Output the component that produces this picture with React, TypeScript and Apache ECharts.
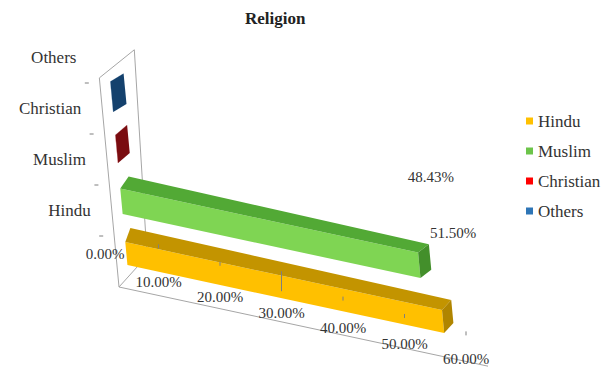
import React, { useEffect, useRef } from 'react';
import * as echarts from 'echarts';

// Religion shares (percent)
const categories = ['Hindu', 'Muslim', 'Christian', 'Others'];
const shares = [51.5, 48.43, 0.04, 0.03];

// Value axis ticks and their labels
const valueTicks = [0, 10, 20, 30, 40, 50, 60];
const tickLabels = ['0.00%', '10.00%', '20.00%', '30.00%', '40.00%', '50.00%', '60.00%'];

// Series colours: legend swatch, lit front face, top face, end face
const legendColors = ['#FFC000', '#6CC44A', '#FF0000', '#2E75B6'];
const frontColors = ['#FFC000', '#7FD553', '#B3161B', '#1F609E'];
const topColors = ['#C39400', '#52A935', '#8F1014', '#184E82'];
const endColors = ['#B08500', '#438F2B', '#7A0C10', '#14416D'];

const FONT = "'Liberation Serif', 'Times New Roman', serif";
const TEXT = '#333333';
const FRAME = '#A6A6A6';

// Oblique view: the value axis runs downhill to the right, the category axis leans left
const SLOPE = 0.2146; // vertical drop per horizontal pixel along the value axis
const LEAN = 0.094; // leftward shift per pixel of height
const WALL_TOP = 4.1; // wall height in category units
const BAR_BASE = 0.43; // bar bottom inside its band
const BAR_SHIFT = 10.5; // bars sit a little behind the front plane

type Pt = [number, number];

function projector(api: any) {
  const o = api.coord([0, 0]);
  const band = api.size([0, 1])[1];
  const x0 = o[0];
  const y0 = o[1] + band / 2;
  return (v: number, c: number, d: Pt = [0, 0]): Pt => {
    const rawX = api.coord([v, 0])[0];
    const rawY = y0 - c * band;
    return [rawX - LEAN * (y0 - rawY) + d[0], rawY + SLOPE * (rawX - x0) + d[1]];
  };
}

const add = (p: Pt, d: Pt): Pt => [p[0] + d[0], p[1] + d[1]];
// depth direction changes with position along the axes (cheap perspective)
const barDepth = (v: number, c: number): Pt => [
  3 + 0.1 * v + 3.2 * Math.min(c, 3.2) - 0.03 * v * c,
  -15.5 + 0.08 * v + 2 * c,
];
const wallDepth = (c: number): Pt => [28 + 1.7 * c, -31 + 0.7 * c];

function barSeries(i: number) {
  return {
    type: 'custom',
    name: categories[i],
    coordinateSystem: 'cartesian2d',
    itemStyle: { color: legendColors[i] },
    z: 3,
    silent: true,
    data: [[shares[i], i]],
    renderItem: (params: any, api: any) => {
      const v = api.value(0);
      const idx = api.value(1);
      const P = projector(api);
      const cb = idx + BAR_BASE;
      const ct = cb + 0.45 + 0.05 * idx;
      const cm = (cb + ct) / 2;
      const f: Pt = [BAR_SHIFT, 0];
      const fbl = P(0, cb, f);
      const fbr = P(v, cb, f);
      const ftr = P(v, ct, f);
      const ftl = P(0, ct, f);
      const dl = barDepth(0, cm);
      const dr = barDepth(v, cm);
      const btl = add(ftl, dl);
      const btr = add(ftr, dr);
      const bbr = add(fbr, dr);
      const children: any[] = [
        { type: 'polygon', shape: { points: [fbl, fbr, ftr, ftl] }, style: { fill: frontColors[i] } },
        { type: 'polygon', shape: { points: [ftl, ftr, btr, btl] }, style: { fill: topColors[i] } },
        { type: 'polygon', shape: { points: [fbr, ftr, btr, bbr] }, style: { fill: endColors[i] } },
      ];
      if (v >= 1) {
        children.push({
          type: 'text',
          x: btr[0] + 2,
          y: btr[1] - 67,
          style: {
            text: v.toFixed(2) + '%',
            fill: TEXT,
            fontFamily: FONT,
            fontSize: 15,
            align: 'center',
            verticalAlign: 'middle',
          },
        });
      }
      return { type: 'group', children };
    },
  };
}

const frameSeries = {
  type: 'custom',
  name: 'frame',
  coordinateSystem: 'cartesian2d',
  z: 1,
  silent: true,
  data: [[0, 0]],
  renderItem: (params: any, api: any) => {
    const P = projector(api);
    const a = P(0, 0);
    const b = P(0, WALL_TOP);
    const c = add(b, wallDepth(WALL_TOP));
    const d = add(a, wallDepth(0));
    const end = P(valueTicks[valueTicks.length - 1], 0);
    const line = (p: Pt, q: Pt, stroke = FRAME) => ({
      type: 'line',
      shape: { x1: p[0], y1: p[1], x2: q[0], y2: q[1] },
      style: { stroke, lineWidth: 1 },
    });
    const children: any[] = [
      line(a, b),
      line(b, c),
      line(c, d),
      line(a, d),
      line(a, end),
    ];
    // category ticks between bands
    for (let k = 1; k <= categories.length; k++) {
      const p = P(0, k);
      children.push(line([p[0] - 15, p[1]], [p[0] - 11, p[1]], '#7F7F7F'));
    }
    // category names
    categories.forEach((name, k) => {
      const p = P(0, k + 1.5);
      children.push({
        type: 'text',
        x: p[0] - 21,
        y: p[1],
        style: {
          text: name,
          fill: TEXT,
          fontFamily: FONT,
          fontSize: 17,
          align: 'right',
          verticalAlign: 'middle',
        },
      });
    });
    return { type: 'group', children };
  },
};

const tickLabelSeries = {
  type: 'custom',
  name: 'ticks',
  coordinateSystem: 'cartesian2d',
  z: 4,
  silent: true,
  data: valueTicks.map((v, k) => [v, 0, k]),
  renderItem: (params: any, api: any) => {
    const P = projector(api);
    const v = api.value(0);
    const k = api.value(2);
    const pos = v === 0 ? P(0, 0, [-14, -33]) : P(v, 0, [-22, -20.4 + 0.22 * v]);
    return {
      type: 'text',
      x: pos[0],
      y: pos[1],
      style: {
        text: tickLabels[k],
        fill: TEXT,
        fontFamily: FONT,
        fontSize: 15,
        align: 'center',
        verticalAlign: 'middle',
      },
    };
  },
};

const gridMarkSeries = {
  type: 'custom',
  name: 'marks',
  coordinateSystem: 'cartesian2d',
  z: 5,
  silent: true,
  data: valueTicks.slice(1).map((v) => [v, 0]),
  renderItem: (params: any, api: any) => {
    const P = projector(api);
    const v = api.value(0);
    const p = P(v, 0, [-22, -58 + 0.42 * v]);
    const len = v === 30 ? 20 : 4;
    return {
      type: 'line',
      shape: { x1: p[0], y1: p[1] - len / 2, x2: p[0], y2: p[1] + len / 2 },
      style: { stroke: '#7F7F7F', lineWidth: 1 },
    };
  },
};

export default function App() {
  const ref = useRef<HTMLDivElement>(null);
  useEffect(() => {
    if (!ref.current) return;
    const chart = echarts.init(ref.current, null, { renderer: 'svg' });
    chart.setOption({
      animation: false,
      backgroundColor: '#ffffff',
      title: {
        text: 'Religion',
        left: 240,
        top: 5,
        textStyle: { fontFamily: FONT, fontSize: 17, fontWeight: 'bold', color: '#222222' },
      },
      legend: {
        orient: 'vertical',
        left: 521,
        top: 107,
        icon: 'rect',
        itemWidth: 7,
        itemHeight: 7,
        itemGap: 12,
        selectedMode: false,
        data: categories,
        textStyle: { fontFamily: FONT, fontSize: 17, color: TEXT, lineHeight: 18 },
      },
      grid: { left: 119, top: 83, width: 369, height: 204 },
      xAxis: { type: 'value', min: 0, max: 60, show: false },
      yAxis: { type: 'category', data: categories, show: false },
      series: [
        frameSeries,
        // back rows first so the front bars overlap them
        barSeries(3),
        barSeries(2),
        barSeries(1),
        barSeries(0),
        gridMarkSeries,
        tickLabelSeries,
      ],
    });
    return () => chart.dispose();
  }, []);
  return (
    <div
      ref={ref}
      style={{ position: 'fixed', left: 0, top: 0, width: 607, height: 375, background: '#fff' }}
    />
  );
}
